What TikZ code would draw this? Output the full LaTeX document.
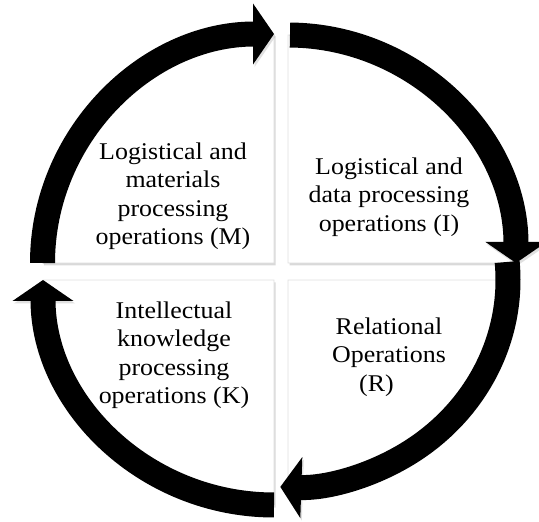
\documentclass[tikz,border=0pt]{standalone}
\usepackage{fontspec}
\newfontfamily\quadfont[FakeStretch=1.08]{Liberation Serif}
\usetikzlibrary{arrows.meta, shadows}

\begin{document}
\begin{tikzpicture}[
    x=1pt, y=1pt,
    quadrant/.style={fill=white, draw=gray!25, line width=0.6pt,
        drop shadow={shadow xshift=1.5pt, shadow yshift=-2.5pt, opacity=0.3, fill=gray}},
    cyclearrow/.style={line width=25pt, -{Triangle[width=60pt, length=21pt]},
        preaction={draw=gray!60, opacity=0.4, transform canvas={xshift=1.5pt, yshift=-2.5pt}}},
    quadtext/.style={align=center, inner sep=0pt, font=\quadfont\fontsize{24}{28.5}\selectfont}
]
    \useasboundingbox (0,0) rectangle (539,522);

    \coordinate (tl) at (274,259);
    \coordinate (tr) at (288,259);
    \coordinate (bl) at (274,242);
    \coordinate (br) at (288,242);

    % quadrants
    \path[quadrant] (tl) -- ++(180:231.5 and 229) arc[start angle=180, end angle=90, x radius=231.5, y radius=229] -- cycle;
    \path[quadrant] (tr) -- ++(90:228 and 228) arc[start angle=90, end angle=0, x radius=228, y radius=228] -- cycle;
    \path[quadrant] (br) -- ++(0:220 and 207) arc[start angle=0, end angle=-90, x radius=220, y radius=207] -- cycle;
    \path[quadrant] (bl) -- ++(-90:231 and 225) arc[start angle=-90, end angle=-180, x radius=231, y radius=225] -- cycle;

    % cycle arrows
    \draw[cyclearrow] (tl) ++(180:231.5 and 229) arc[start angle=180, end angle=90, x radius=231.5, y radius=229];
    \draw[cyclearrow] (tr) ++(89.5:228 and 228) arc[start angle=89.5, end angle=0, x radius=228, y radius=228];
    \draw[cyclearrow] (br) ++(5:220 and 207) arc[start angle=5, end angle=-92, x radius=220, y radius=207];
    \draw[cyclearrow] (bl) ++(-90:231 and 225) arc[start angle=-90, end angle=-180, x radius=231, y radius=225];

    \node[quadtext] (mat) at (173,326) {Logistical and\\materials\\processing\\operations (M)};
    \node[quadtext] (dat) at (389,325) {Logistical and\\data processing\\operations (I)};
    \node[quadtext] (rel) at (389,165) {Relational\\Operations\\(R)\hspace*{25pt}};
    \node[quadtext] (kno) at (174,167) {Intellectual\\knowledge\\processing\\operations (K)};
\end{tikzpicture}
\end{document}
